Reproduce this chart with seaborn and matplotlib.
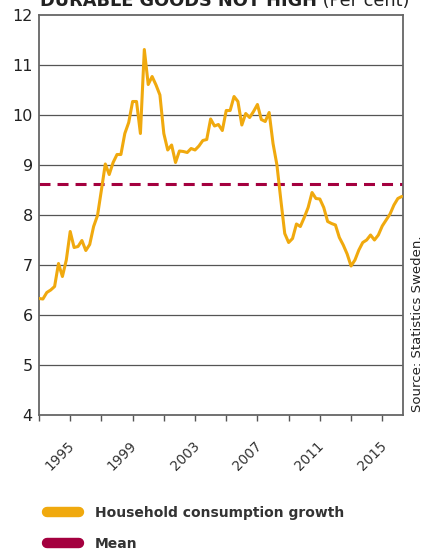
import numpy as np
import pandas as pd
import matplotlib
matplotlib.use("Agg")
import matplotlib.pyplot as plt
import matplotlib.transforms as mtransforms
from matplotlib.lines import Line2D
import seaborn as sns

# Quarterly household consumption growth, durable goods (per cent), from 1993Q1
first_quarter = "1993Q1"
growth = [
    6.33, 6.32, 6.45, 6.50, 6.57, 7.03, 6.77, 7.10, 7.67, 7.35,
    7.37, 7.49, 7.29, 7.41, 7.77, 7.99, 8.50, 9.02, 8.81, 9.05,
    9.21, 9.21, 9.63, 9.85, 10.27, 10.27, 9.63, 11.31, 10.61, 10.77,
    10.60, 10.40, 9.63, 9.30, 9.40, 9.05, 9.28, 9.27, 9.25, 9.33,
    9.30, 9.38, 9.49, 9.51, 9.92, 9.78, 9.81, 9.69, 10.09, 10.09,
    10.37, 10.27, 9.80, 10.03, 9.95, 10.07, 10.21, 9.91, 9.87, 10.05,
    9.43, 9.00, 8.30, 7.63, 7.45, 7.53, 7.82, 7.77, 7.95, 8.15,
    8.45, 8.33, 8.32, 8.15, 7.87, 7.83, 7.80, 7.55, 7.40, 7.22,
    6.98, 7.10, 7.30, 7.45, 7.50, 7.60, 7.50, 7.60, 7.78, 7.90,
    8.02, 8.20, 8.33, 8.37,
]
mean_level = 8.62

y_ticks = [4, 5, 6, 7, 8, 9, 10, 11, 12]
year_labels = [1995, 1999, 2003, 2007, 2011, 2015]
year_minor = [1993, 1997, 2001, 2005, 2009, 2013]

series_names = ["Household consumption growth", "Mean"]
series_colors = ["#F0A90E", "#A4003F"]

quarters = pd.period_range(first_quarter, periods=len(growth), freq="Q")
df = pd.DataFrame({
    "year": quarters.year + (quarters.quarter - 1) / 4.0,
    "growth": growth,
})

sns.set_theme(style="white")
plt.rcParams["font.family"] = ["DejaVu Sans"]

W, H = 425, 551
fig = plt.figure(figsize=(W / 100, H / 100), dpi=100)
ax = fig.add_axes([39 / W, 1 - 415 / H, (403 - 39) / W, 400 / H])

# horizontal grid at each integer
for v in y_ticks[1:-1]:
    ax.axhline(v, color="#555555", lw=0.9, zorder=1)

ax.axhline(mean_level, color=series_colors[1], lw=2.2, ls=(0, (3.6, 2.3)), zorder=2)
sns.lineplot(data=df, x="year", y="growth", ax=ax, color=series_colors[0],
             lw=2.2, zorder=3, legend=False)

ax.set_xlim(1993, 2016.33)
ax.set_ylim(4, 12)
ax.set_xlabel("")
ax.set_ylabel("")

ax.set_yticks(y_ticks)
ax.set_yticklabels([str(v) for v in y_ticks])
ax.tick_params(axis="y", length=0, pad=4.5, labelsize=11.5, labelcolor="#222222")

ax.set_xticks(year_labels)
ax.set_xticks(year_minor, minor=True)
ax.set_xticklabels([str(v) for v in year_labels], rotation=45, ha="right")
ax.tick_params(axis="x", which="both", direction="out", length=4, width=1,
               color="#555555", bottom=True)
ax.tick_params(axis="x", which="major", pad=13, labelsize=9.8, labelcolor="#333333")
shift = mtransforms.ScaledTranslation(7 / 100, 0, fig.dpi_scale_trans)
for lab in ax.get_xticklabels():
    lab.set_transform(lab.get_transform() + shift)

for side in ["left", "right", "top", "bottom"]:
    ax.spines[side].set_visible(True)
    ax.spines[side].set_color("#666666")
    ax.spines[side].set_linewidth(1.3)

# title, partly above the top edge
title_y = 1 - 6 / H
t1 = fig.text(40 / W, title_y, "DURABLE GOODS NOT HIGH", weight="bold",
              fontsize=12.8, va="baseline", ha="left", color="#222222")
fig.canvas.draw()
bb = t1.get_window_extent(renderer=fig.canvas.get_renderer())
fig.text(bb.x1 / W, title_y, " (Per cent)", fontsize=12.8, va="baseline",
         ha="left", color="#222222")

fig.text(417.5 / W, 1 - 412 / H, "Source: Statistics Sweden.", rotation=90,
         fontsize=9.5, ha="center", va="bottom", color="#222222")

handles = [Line2D([0], [0], color=c, lw=7.5, solid_capstyle="round")
           for c in series_colors]
leg = fig.legend(handles, series_names, loc="upper left",
                 bbox_to_anchor=(47 / W, 1 - 506 / H), frameon=False,
                 borderpad=0, borderaxespad=0, handlelength=2.3,
                 handletextpad=1.15, labelspacing=1.2,
                 prop={"weight": "bold", "size": 10})
for txt in leg.get_texts():
    txt.set_color("#333333")

fig.savefig("out.png", dpi=100)
